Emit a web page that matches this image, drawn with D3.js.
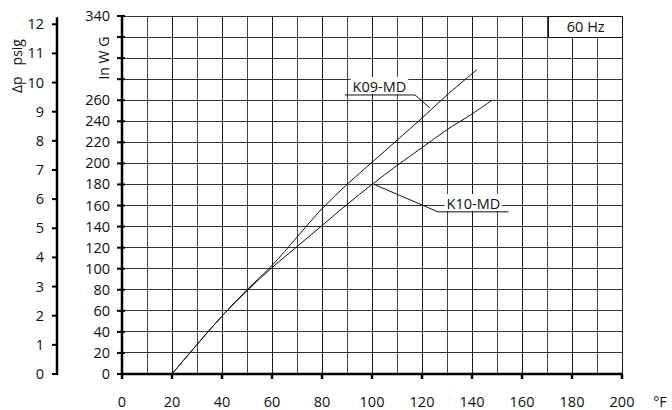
<!DOCTYPE html>
<html>
<head>
<meta charset="utf-8">
<script src="https://cdn.jsdelivr.net/npm/d3@7"></script>
<style>
  html, body { margin: 0; padding: 0; background: #fff; }
  svg { display: block; }
  text { font-family: "Open Sans", Lato, sans-serif; fill: #111; }
</style>
</head>
<body>
<svg id="chart" width="672" height="410"></svg>
<script>
// ---- data ----
const xTicks = [0, 20, 40, 60, 80, 100, 120, 140, 160, 180, 200];
const yTicksInWG = [0, 20, 40, 60, 80, 100, 120, 140, 160, 180, 200, 220, 240, 260, 340];
const yTicksPsig = [0, 1, 2, 3, 4, 5, 6, 7, 8, 9, 10, 11, 12];
const k09Temp = [20, 30, 40, 50, 60, 70, 80, 90, 100, 110, 120, 130, 142];
const k09Dp   = [0, 28, 55, 80, 103, 130, 157, 180, 201, 222, 243, 265, 289];
const k10Temp = [20, 30, 40, 50, 60, 70, 80, 90, 100, 110, 120, 130, 140, 148];
const k10Dp   = [0, 28, 55, 79, 101, 121, 141, 161, 180, 198, 215, 232, 247, 260];
const seriesNames = ["K09-MD", "K10-MD"];
const inWGPerPsig = 27.68;

// ---- scales ----
const svg = d3.select("#chart");
const x = d3.scaleLinear().domain([0, 200]).range([122, 622]);
const y = d3.scaleLinear().domain([0, 340]).range([374, 16]);
const yPsig = d3.scaleLinear().domain([0, 340 / inWGPerPsig]).range([374, 16]);

// ---- grid ----
const grid = svg.append("g");
grid.selectAll("line.v").data(d3.range(10, 201, 10)).enter().append("line")
  .attr("x1", d => x(d)).attr("x2", d => x(d))
  .attr("y1", y(0)).attr("y2", y(340))
  .attr("stroke", d => d % 20 === 0 ? "#1a1a1a" : "#444").attr("stroke-width", 1)
  .attr("shape-rendering", "crispEdges");
grid.selectAll("line.h").data(d3.range(20, 341, 20)).enter().append("line")
  .attr("x1", x(0)).attr("x2", x(200))
  .attr("y1", d => y(d)).attr("y2", d => y(d))
  .attr("stroke", "#333").attr("stroke-width", 1)
  .attr("shape-rendering", "crispEdges");

// ---- curves ----
const line = d3.line().x(d => x(d[0])).y(d => y(d[1])).curve(d3.curveCatmullRom.alpha(0.5));
const k09 = k09Temp.map((t, i) => [t, k09Dp[i]]);
const k10 = k10Temp.map((t, i) => [t, k10Dp[i]]);
[k09, k10].forEach(s => {
  svg.append("path").datum(s).attr("d", line)
    .attr("fill", "none").attr("stroke", "#111").attr("stroke-width", 1);
});

// ---- annotations ----
function annotate(name, tx, ty, ux1, ux2, uy, px, py) {
  const g = svg.append("g");
  const t = g.append("text").attr("x", x(tx)).attr("y", y(ty))
    .attr("font-size", 14.5).text(name);
  const bb = t.node().getBBox();
  g.insert("rect", "text").attr("x", bb.x - 2).attr("y", bb.y)
    .attr("width", bb.width + 4).attr("height", y(uy) - bb.y - 1).attr("fill", "#fff");
  g.append("path")
    .attr("d", `M${x(ux1)},${y(uy)}H${x(ux2)}`)
    .attr("stroke", "#111").attr("fill", "none");
  const leadFrom = (px > ux2) ? ux2 : ux1;
  g.append("line").attr("x1", x(leadFrom)).attr("y1", y(uy))
    .attr("x2", x(px)).attr("y2", y(py)).attr("stroke", "#111");
}
annotate(seriesNames[0], 92.2, 268, 89.2, 117.2, 265, 123.2, 252.6);
annotate(seriesNames[1], 129.8, 156.7, 126.4, 154.6, 154, 100.4, 180.5);

// ---- 60 Hz box ----
svg.append("rect").attr("x", x(170.4)).attr("y", y(340))
  .attr("width", x(200) - x(170.4)).attr("height", y(320) - y(340))
  .attr("fill", "#fff").attr("stroke", "#111").attr("stroke-width", 1)
  .attr("shape-rendering", "crispEdges");
svg.append("text").attr("x", x(185.5)).attr("y", y(330) + 5)
  .attr("text-anchor", "middle").attr("font-size", 14.5).text("60 Hz");

// ---- x axis ----
svg.append("line").attr("x1", x(0) - 1).attr("x2", x(200) + 1)
  .attr("y1", y(0)).attr("y2", y(0)).attr("stroke", "#000").attr("stroke-width", 2.5);
svg.selectAll("line.xt").data(xTicks).enter().append("line")
  .attr("x1", d => x(d)).attr("x2", d => x(d))
  .attr("y1", y(0)).attr("y2", y(0) + 5)
  .attr("stroke", "#000").attr("stroke-width", 2.5);
svg.selectAll("text.xl").data(xTicks).enter().append("text")
  .attr("x", d => x(d)).attr("y", 407)
  .attr("text-anchor", "middle").attr("font-size", 14.5).text(d => d);
svg.append("text").attr("x", 660).attr("y", 407)
  .attr("text-anchor", "middle").attr("font-size", 14.5).text("°F");

// ---- inWG axis ----
svg.append("line").attr("x1", x(0)).attr("x2", x(0))
  .attr("y1", y(340)).attr("y2", y(0) + 1).attr("stroke", "#000").attr("stroke-width", 2.5);
svg.selectAll("line.yt").data(d3.range(0, 341, 20)).enter().append("line")
  .attr("x1", x(0) - 5).attr("x2", x(0) + 3)
  .attr("y1", d => y(d)).attr("y2", d => y(d))
  .attr("stroke", "#000").attr("stroke-width", 2);
svg.selectAll("text.yl").data(yTicksInWG).enter().append("text")
  .attr("x", 110).attr("y", d => y(d) + 5)
  .attr("text-anchor", "end").attr("font-size", 14.5).text(d => d);
svg.append("text")
  .attr("transform", `translate(109, ${y(300)}) rotate(-90)`)
  .attr("text-anchor", "middle").attr("font-size", 14).text("In W G");

// ---- psig axis ----
svg.append("line").attr("x1", 57).attr("x2", 57)
  .attr("y1", yPsig(12.24)).attr("y2", yPsig(0) + 1).attr("stroke", "#000").attr("stroke-width", 2.5);
svg.selectAll("line.pt").data(yTicksPsig).enter().append("line")
  .attr("x1", 52).attr("x2", 57)
  .attr("y1", d => yPsig(d)).attr("y2", d => yPsig(d))
  .attr("stroke", "#000").attr("stroke-width", 2);
svg.selectAll("text.pl").data(yTicksPsig).enter().append("text")
  .attr("x", 44).attr("y", d => yPsig(d) + 5)
  .attr("text-anchor", "end").attr("font-size", 14.5).text(d => d);
svg.append("text")
  .attr("transform", `translate(22, 66) rotate(-90)`)
  .attr("text-anchor", "middle").attr("font-size", 14)
  .attr("xml:space", "preserve").style("white-space", "pre").text("Δp   psig");
</script>
</body>
</html>
